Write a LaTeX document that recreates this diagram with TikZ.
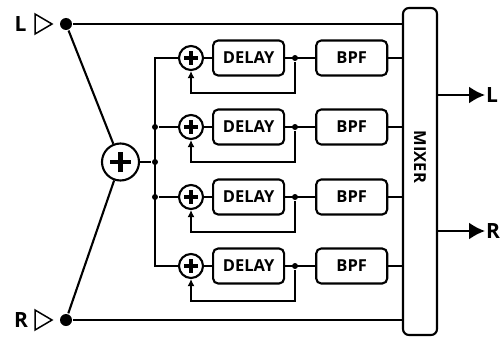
\documentclass[tikz,border=0pt]{standalone}
\usepackage{fontspec}
\setmainfont{Open Sans}
\usetikzlibrary{arrows.meta,positioning}

\begin{document}
\begin{tikzpicture}[
  x=1pt, y=-1pt,
  line width=2.1pt,
  block/.style={draw, rounded corners=5pt, minimum width=71pt, minimum height=35pt, inner sep=0pt, font=\bfseries\fontsize{16.5}{17}\selectfont},
  adder/.style={draw, circle, inner sep=0pt, minimum size=#1, path picture={
      \draw[line width=#1/7.5] (path picture bounding box.center) +(-#1*0.28,0) -- +(#1*0.28,0)
        (path picture bounding box.center) +(0,-#1*0.28) -- +(0,#1*0.28);}},
  adder/.default=24pt,
  dot/.style={circle, fill, inner sep=0pt, minimum size=#1},
  dot/.default=6pt,
  mixer/.style={draw, rounded corners=6pt, minimum width=34pt, minimum height=327pt, inner sep=0pt},
  io/.style={font=\bfseries\fontsize{21}{21}\selectfont, inner sep=0pt},
  intri/.style={line width=1.5pt, line join=miter},
  fb/.style={-{Latex[length=7pt,width=7pt]}},
  outarrow/.style={-{Latex[length=16pt,width=17pt]}}
]
\useasboundingbox (0,0) rectangle (502,337);

% inputs
\node[io] (inL) at (20.5,24) {L};
\node[io] (inR) at (21,320) {R};
\draw[intri] (35,14) -- (52,24) -- (35,34) -- cycle;
\draw[intri] (35,310) -- (52,320) -- (35,330) -- cycle;
\node[dot=12pt] (splL) at (66,24) {};
\node[dot=12pt] (splR) at (66,320) {};

% mono sum and bus
\node[adder=37pt] (sum) at (120.5,162) {};
\node[dot] (bus2) at (155,127) {};
\node[dot] (busS) at (155,162) {};
\node[dot] (bus3) at (155,197) {};

% delay lines
\node[adder] (a1) at (191,58) {};
\node[block, right=8pt of a1] (d1) {DELAY};
\node[block, right=30pt of d1] (f1) {BPF};
\node[dot] (j1) at (295,58) {};

\node[adder] (a2) at (191,127) {};
\node[block, right=8pt of a2] (d2) {DELAY};
\node[block, right=30pt of d2] (f2) {BPF};
\node[dot] (j2) at (295,127) {};

\node[adder] (a3) at (191,197) {};
\node[block, right=8pt of a3] (d3) {DELAY};
\node[block, right=30pt of d3] (f3) {BPF};
\node[dot] (j3) at (295,197) {};

\node[adder] (a4) at (191,266) {};
\node[block, right=8pt of a4] (d4) {DELAY};
\node[block, right=30pt of d4] (f4) {BPF};
\node[dot] (j4) at (295,266) {};

% mixer and outputs
\node[mixer] (mix) at (420,171.5) {};
\node[rotate=-90, font=\bfseries\fontsize{16.5}{17}\selectfont, inner sep=0pt] (mixtxt) at (420,157) {MIXER};
\node[io, anchor=west] (outL) at (485,95) {L};
\node[io, anchor=west] (outR) at (485,231) {R};

\draw (splL) -- (splL -| mix.west);
\draw (splR) -- (splR -| mix.west);
\draw (splL) -- (sum);
\draw (splR) -- (sum);
\draw (sum) -- (busS);
\draw (a1.west) -| (a4.west -| busS) -- (a4);
\draw (bus2) -- (a2);
\draw (bus3) -- (a3);

\draw (a1) -- (d1);
\draw (d1) -- (f1);
\draw (f1) -- (f1 -| mix.west);
\draw[fb] (j1) -- ++(0,35) -| (a1);

\draw (a2) -- (d2);
\draw (d2) -- (f2);
\draw (f2) -- (f2 -| mix.west);
\draw[fb] (j2) -- ++(0,35) -| (a2);

\draw (a3) -- (d3);
\draw (d3) -- (f3);
\draw (f3) -- (f3 -| mix.west);
\draw[fb] (j3) -- ++(0,35) -| (a3);

\draw (a4) -- (d4);
\draw (d4) -- (f4);
\draw (f4) -- (f4 -| mix.west);
\draw[fb] (j4) -- ++(0,35) -| (a4);

\draw[outarrow] (mix.east |- outL) -- (outL.west);
\draw[outarrow] (mix.east |- outR) -- (outR.west);
\end{tikzpicture}
\end{document}
